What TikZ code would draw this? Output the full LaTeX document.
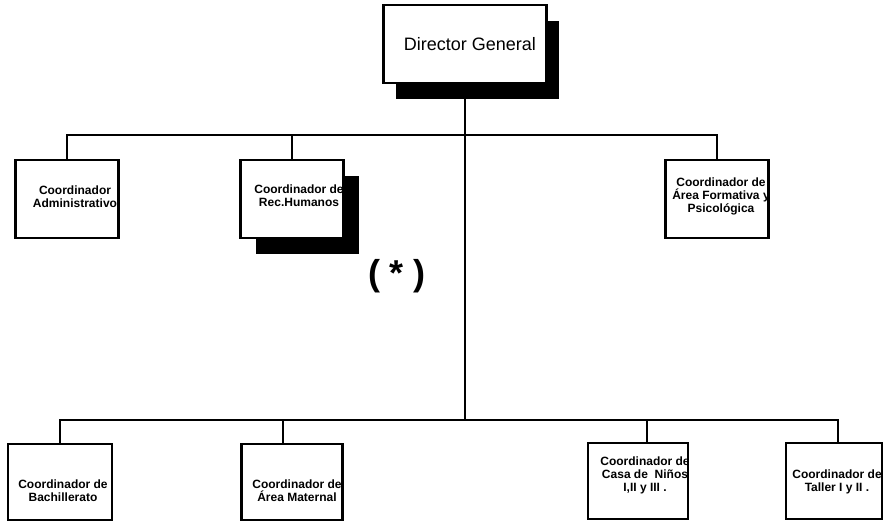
\documentclass[tikz,border=0pt]{standalone}
\usepackage{fontspec}
\setmainfont{Liberation Sans}
\usetikzlibrary{shadows}

\begin{document}
\begin{tikzpicture}
% Style
[
    x=1pt, y=-1pt,
    box/.style={
        draw, fill=white, line width=2.8pt, shape=rectangle, inner sep=0pt,
        minimum width=#1, minimum height=78pt
    },
    box/.default=103pt,
    low/.style={box=#1, minimum height=76pt},
    txt/.style={font=\bfseries\fontsize{12}{13}\selectfont, align=center, inner sep=0pt},
    darkshade/.style={drop shadow={shadow xshift=#1, shadow yshift=-16pt, fill=black, opacity=1}},
    link/.style={line width=1.4pt},
]

%=================================== Start ===================================
{
    \useasboundingbox (0,0) rectangle (883,524);

    \node[box=163pt, darkshade=12pt,
        label={[inner sep=0pt, font=\fontsize{18}{20}\selectfont, xshift=5pt]center:Director General}]
        (dir) at (465,44) {};

    % first row
    \node[box, label={[txt, xshift=8pt, yshift=2pt]center:{Coordinador\\Administrativo}}] (adm) at (67,199) {};
    \node[box, darkshade=15pt, label={[txt, xshift=7pt, yshift=3pt]center:{Coordinador de\\Rec.Humanos}}] (rec) at (292,199) {};
    \node[box, label={[txt, xshift=4pt, yshift=3pt]center:{Coordinador de\\Área Formativa y\\Psicológica}}] (form) at (717,199) {};

    % second row
    \node[low=104pt, label={[txt, xshift=3pt, yshift=-9pt]center:{Coordinador de\\Bachillerato}}] (bach) at (60,482) {};
    \node[low=101pt, label={[txt, xshift=5pt, yshift=-9pt]center:{Coordinador de\\Área Maternal}}] (mat) at (292,482) {};
    \node[low=100pt, label={[txt, xshift=7pt, yshift=6pt]center:{Coordinador de\\Casa de~ Niños\\I,II y III .}}] (casa) at (638,481) {};
    \node[low=96pt, label={[txt, xshift=3pt, yshift=-1pt]center:{Coordinador de\\Taller I y II .}}] (taller) at (834,481) {};

    \node[inner sep=0pt, font=\bfseries\fontsize{36}{40}\selectfont] (note) at (397,276) {( * )};

    % connectors
    \coordinate (top-bus) at (465,135);
    \coordinate (bot-bus) at (465,420);
    \draw[link] (dir.south) -- (bot-bus);
    \draw[link] (adm.north) |- (top-bus) -| (form.north);
    \draw[link] (rec.north) |- (top-bus);
    \draw[link] (bach.north) |- (bot-bus) -| ([xshift=4pt]taller.north);
    \draw[link] ([xshift=-9pt]mat.north) |- (bot-bus);
    \draw[link] ([xshift=9pt]casa.north) |- (bot-bus);
}
%==================================== END ====================================

\end{tikzpicture}
\end{document}
